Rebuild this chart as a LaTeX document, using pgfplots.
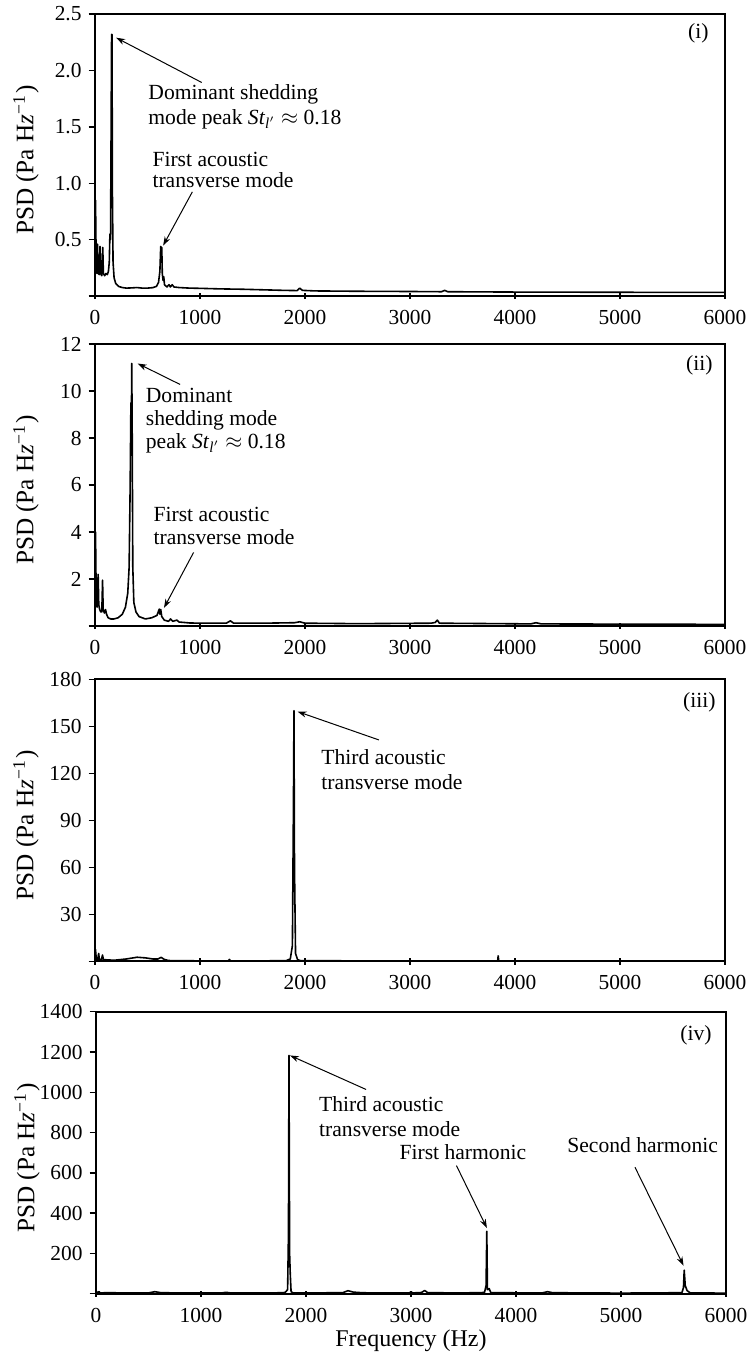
\documentclass[border=0pt]{standalone}
\usepackage{fontspec}
\setmainfont{Liberation Serif}
\usepackage{pgfplots}
\pgfplotsset{compat=1.18}
\usetikzlibrary{arrows.meta}

\pgfplotsset{
  psd/.style={
    scale only axis, width=315pt, height=141pt,
    xmin=0, xmax=6000, xtick={0,1000,...,6000},
    /pgf/number format/1000 sep={},
    /pgf/number format/assume math mode=true,
    axis line style={line width=0.9pt},
    tick pos=left,
    xtick align=center, ytick align=outside,
    major tick length=3.2pt,
    every tick/.style={black, line width=0.7pt},
    ticklabel style={font=\fontsize{10.7}{12}\selectfont},
    xticklabel style={yshift=-2pt},
    ylabel={PSD (Pa H\textit{z}\textsuperscript{−1}\kern0.05em)},
    ylabel style={at={([xshift=-34.5pt,yshift=-2.5pt]axis description cs:0,0.5)}, anchor=center, font=\fontsize{12.6}{14}\selectfont},
    clip=false,
  },
  spec/.style={black, line width=0.8pt, line join=round},
}
\tikzset{
  annot/.style={-{Stealth[length=4.5pt,width=3pt]}, line width=0.5pt},
  atext/.style={anchor=west, inner sep=0pt, align=left, font=\fontsize{10.8}{12}\selectfont},
  plab/.style={anchor=north east, inner sep=0pt, font=\fontsize{10.8}{12}\selectfont},
}

\begin{document}
\begin{tikzpicture}
\useasboundingbox (-47.5pt,7pt) rectangle (327.5pt,-671.5pt);

% ---------------- (i)
\begin{axis}[psd, at={(0pt,0pt)}, anchor=north west,
  ymin=0, ymax=2.5, ytick={0,0.5,1,1.5,2,2.5},
  yticklabels={,0.5,1.0,1.5,2.0,2.5}]
\addplot[spec] coordinates {
(0,0.3) (5,0.85) (12,0.25) (18,0.2) (24,0.46) (30,0.2) (40,0.19) (48,0.44) (54,0.2) (64,0.18) (74,0.43) (80,0.2) (92,0.18) (105,0.2) (118,0.19) (128,0.22) (136,0.3) (142,0.55) (148,0.5) (153,1.4) (158,2.32) (162,2.32) (166,0.9) (172,0.3) (182,0.16) (198,0.11) (225,0.085) (260,0.075) (300,0.07) (350,0.072) (400,0.075) (450,0.07) (500,0.07) (550,0.074) (585,0.085) (605,0.12) (618,0.22) (626,0.44) (631,0.3) (636,0.43) (641,0.2) (648,0.14) (655,0.17) (662,0.1) (685,0.08) (705,0.1) (718,0.08) (735,0.1) (752,0.08) (800,0.075) (900,0.07) (1000,0.068) (1200,0.063) (1400,0.06) (1600,0.055) (1800,0.05) (1925,0.048) (1950,0.07) (1975,0.05) (2100,0.045) (2500,0.042) (3000,0.04) (3300,0.038) (3330,0.05) (3360,0.038) (4000,0.035) (5000,0.033) (6000,0.032)
};
\draw[annot] (axis cs:1016,1.893) -- (axis cs:201,2.29);
\node[atext, font=\fontsize{10.8}{12.5}\selectfont] at (axis cs:505,1.675) {Dominant shedding\\mode peak \textit{St}\textsubscript{\textit{l}$'$} $\approx$ 0.18};
\draw[annot] (axis cs:927,0.923) -- (axis cs:649,0.447);
\node[atext, font=\fontsize{10.8}{10.2}\selectfont] at (axis cs:544,1.118) {First acoustic\\transverse mode};
\node[plab] at ([xshift=-8pt,yshift=-4.5pt]rel axis cs:1,1) {(i)};
\end{axis}

% ---------------- (ii)
\begin{axis}[psd, at={(0pt,-165pt)}, anchor=north west,
  ymin=0, ymax=12, ytick={0,2,...,12},
  yticklabels={,2,4,6,8,10,12}]
\addplot[spec] coordinates {
(0,0.5) (5,4.0) (12,1.0) (20,0.8) (30,2.2) (36,0.9) (45,0.7) (55,0.6) (65,0.6) (72,1.95) (78,0.7) (90,0.55) (100,0.7) (110,0.5) (125,0.35) (150,0.3) (180,0.3) (220,0.35) (260,0.5) (290,0.8) (312,1.4) (325,2.5) (335,6) (342,9.5) (346,8.3) (350,11.17) (354,8.5) (360,2.5) (370,1.0) (390,0.6) (420,0.4) (480,0.3) (540,0.35) (590,0.45) (612,0.72) (618,0.5) (626,0.7) (636,0.4) (660,0.25) (700,0.2) (720,0.3) (740,0.2) (780,0.25) (800,0.17) (900,0.13) (1000,0.12) (1250,0.12) (1290,0.22) (1320,0.12) (1600,0.12) (1900,0.14) (1950,0.18) (2000,0.12) (2500,0.1) (3200,0.12) (3240,0.15) (3260,0.25) (3280,0.12) (4150,0.09) (4200,0.14) (4250,0.09) (5000,0.08) (6000,0.07)
};
\draw[annot] (axis cs:810,10.28) -- (axis cs:407,11.17);
\node[atext, font=\fontsize{10.8}{11.6}\selectfont] at (axis cs:481,8.75) {Dominant\\shedding mode\\peak \textit{St}\textsubscript{\textit{l}$'$} $\approx$ 0.18};
\draw[annot] (axis cs:939,3.13) -- (axis cs:657,0.77);
\node[atext, font=\fontsize{10.8}{11.2}\selectfont] at (axis cs:554,4.26) {First acoustic\\transverse mode};
\node[plab] at ([xshift=-6pt,yshift=-5.5pt]rel axis cs:1,1) {(ii)};
\end{axis}

% ---------------- (iii)
\begin{axis}[psd, at={(0pt,-332.65pt)}, anchor=north west,
  ymin=0, ymax=180, ytick={0,30,...,180},
  yticklabels={,30,60,90,120,150,180}]
\addplot[spec] coordinates {
(0,2) (5,7.5) (12,1.5) (25,1) (35,5) (42,1) (60,1) (72,4) (80,1) (100,1) (150,0.8) (200,0.8) (300,1.5) (400,2.6) (480,2.2) (550,1.5) (600,1.5) (630,2.5) (660,1.2) (700,0.5) (800,0.4) (1000,0.3) (1270,0.3) (1280,1.2) (1290,0.3) (1600,0.3) (1820,0.4) (1860,1.5) (1880,10) (1890,100) (1895,160) (1900,60) (1910,5) (1930,1) (1960,0.4) (2500,0.3) (3000,0.3) (3835,0.3) (3840,3.5) (3845,0.3) (5000,0.3) (6000,0.3)
};
\draw[annot] (axis cs:2704,141.3) -- (axis cs:1929,159.4);
\node[atext, font=\fontsize{10.8}{12.5}\selectfont] at (axis cs:2153,122.6) {Third acoustic\\transverse mode};
\node[plab] at ([xshift=-4.5pt,yshift=-6.5pt]rel axis cs:1,1) {(iii)};
\end{axis}

% ---------------- (iv)
\begin{axis}[psd, at={(0.5pt,-498.85pt)}, anchor=north west,
  ymin=0, ymax=1400, ytick={0,200,...,1400},
  yticklabels={,200,400,600,800,1000,1200,1400},
  xlabel={Frequency (Hz)},
  xlabel style={at={(axis description cs:0.5,0)}, anchor=center, yshift=-23.5pt, font=\fontsize{12}{14}\selectfont}]
\addplot[spec] coordinates {
(0,5) (30,10) (40,4) (100,5) (300,4) (500,4) (560,10) (620,5) (800,4) (1200,4) (1240,7) (1280,4) (1700,4) (1800,6) (1825,20) (1833,300) (1838,1183) (1844,200) (1850,100) (1858,10) (1880,4) (2000,4) (2350,5) (2400,15) (2450,8) (2500,6) (2600,4) (2980,4) (3000,8) (3020,4) (3100,6) (3130,16) (3160,5) (3500,4) (3700,6) (3715,40) (3722,310) (3728,20) (3745,25) (3760,5) (4250,4) (4300,10) (4350,5) (5000,3) (5580,5) (5595,30) (5602,117) (5612,40) (5630,15) (5660,4) (6000,3)
};
\draw[annot] (axis cs:2572,1014) -- (axis cs:1847,1183);
\node[atext, font=\fontsize{10.8}{12.5}\selectfont] at (axis cs:2122,881) {Third acoustic\\transverse mode};
\draw[annot] (axis cs:3433,636) -- (axis cs:3723,326);
\node[anchor=center, inner sep=0pt, font=\fontsize{10.8}{12}\selectfont] at (axis cs:3494,702) {First harmonic};
\draw[annot] (axis cs:5133,628) -- (axis cs:5596,139);
\node[anchor=center, inner sep=0pt, font=\fontsize{10.8}{12}\selectfont] at (axis cs:5206,736) {Second harmonic};
\node[plab] at ([xshift=-7pt,yshift=-6.5pt]rel axis cs:1,1) {(iv)};
\end{axis}
\end{tikzpicture}
\end{document}
